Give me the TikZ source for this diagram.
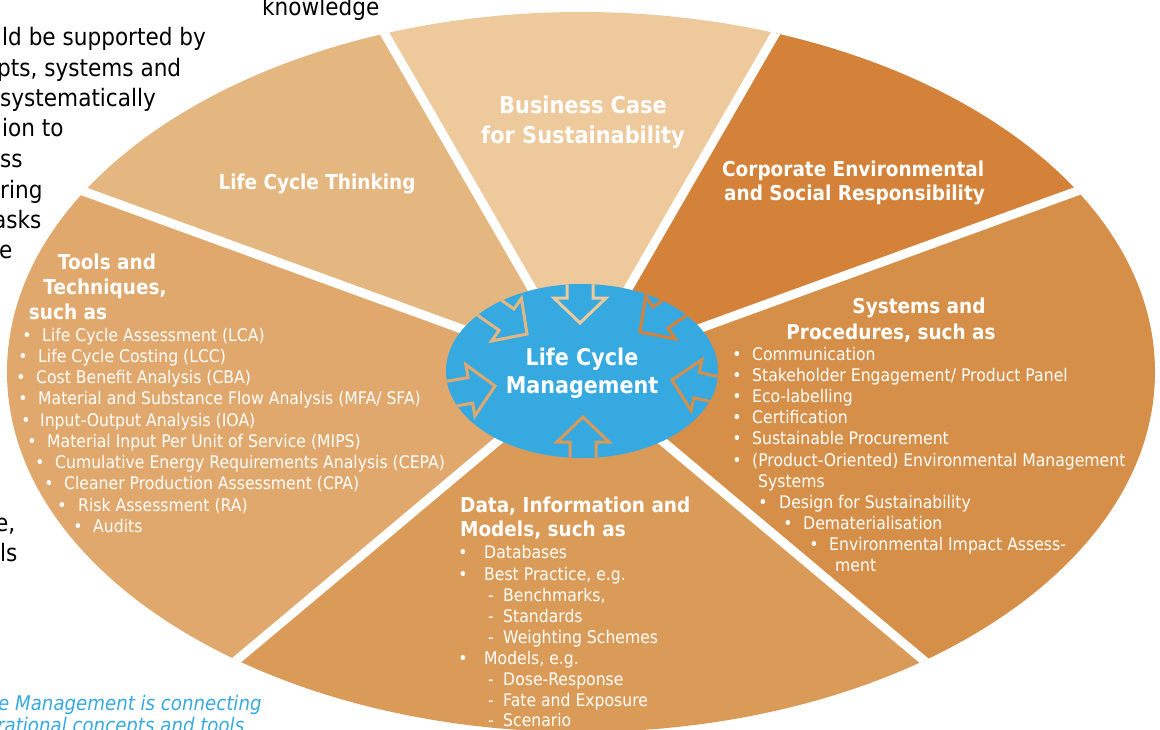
\documentclass[tikz,border=0pt]{standalone}
\usepackage{fontspec}
\setmainfont{DejaVu Sans}[FakeStretch=0.9]
\definecolor{lcblue}{HTML}{36A9E1}
\definecolor{cbiz}{HTML}{EDC99B}
\definecolor{clct}{HTML}{E5B780}
\definecolor{ccor}{HTML}{D4823A}
\definecolor{csys}{HTML}{D68F48}
\definecolor{cdat}{HTML}{DB9B58}
\definecolor{ctoo}{HTML}{E0A86C}
\tikzset{
  sepline/.style={white, line width=9pt},
  bt/.style={inner sep=0pt, anchor=west, text=white, font=\fontsize{17.4}{20}\selectfont, text height=12.6pt, text depth=0pt},
  hd/.style={inner sep=0pt, text=white, font=\bfseries\fontsize{20.5}{24}\selectfont, text height=15pt, text depth=0pt},
  bk/.style={inner sep=0pt, anchor=west, text=black, font=\fontsize{24}{28}\selectfont, text height=17.5pt, text depth=0pt},
  bl/.style={inner sep=0pt, anchor=west, text=lcblue, font=\itshape\fontsize{20.2}{26}\selectfont, text height=14.7pt, text depth=0pt},
  arr/.style={fill=lcblue, line width=3pt, line join=miter},
}
\newcommand\bitem[5]{%
  \node[bt] (#1) at (#3,#4) {#5};
  \coordinate (#1x) at (#2,0);
  \node[inner sep=0pt, anchor=base, text=white, font=\fontsize{17.4}{20}\selectfont] (#1b) at (#1x |- #1.base) {•};}
\newcommand\ditem[4]{%
  \node[bt] (#1) at (503,#3) {#4};
  \node[inner sep=0pt, anchor=base west, text=white, font=\fontsize{17.4}{20}\selectfont] (#1b) at (#2 |- #1.base) {-};}
\newcommand\lcarrow[3]{%
  \begin{scope}[shift={#1}, rotate=#2]
    \filldraw[arr, draw=#3] (0pt,0pt) -- (-25pt,26pt) -- (-25pt,13pt) -- (-70pt,13pt) -- (-70pt,-13pt) -- (-25pt,-13pt) -- (-25pt,-26pt) -- cycle;
  \end{scope}}
\begin{document}
\begin{tikzpicture}[x=1pt,y=-1pt]
\useasboundingbox (0,0) rectangle (1160,729);
\coordinate (C) at (580,372);
\begin{scope}
  \clip (581,372) ellipse [x radius=574pt, y radius=360pt];
  \fill[cbiz] (C) -- ++(60:1000pt) arc[start angle=60, end angle=120, radius=1000pt] -- cycle;
  \fill[clct] (C) -- ++(120:1000pt) arc[start angle=120, end angle=160, radius=1000pt] -- cycle;
  \fill[ctoo] (C) -- ++(160:1000pt) arc[start angle=160, end angle=220, radius=1000pt] -- cycle;
  \fill[cdat] (C) -- ++(220:1000pt) arc[start angle=220, end angle=320, radius=1000pt] -- cycle;
  \fill[csys] (C) -- ++(-40:1000pt) arc[start angle=-40, end angle=20, radius=1000pt] -- cycle;
  \fill[ccor] (C) -- ++(20:1000pt) arc[start angle=20, end angle=60, radius=1000pt] -- cycle;
  \foreach \a in {160,120,60,20,-40,220} \draw[sepline] (C) -- ++(\a:900pt);
\end{scope}
\fill[lcblue] (582,371) ellipse [x radius=136pt, y radius=87pt];
\begin{scope}
  \clip (582,371) ellipse [x radius=136pt, y radius=87pt];
  \lcarrow{(580,323)}{-90}{cbiz}
  \lcarrow{(583,417)}{90}{cdat}
  \lcarrow{(495,386)}{10}{ctoo}
  \lcarrow{(672,380)}{168}{csys}
  \lcarrow{(527,334)}{-35}{clct}
  \lcarrow{(640,332)}{-145}{ccor}
\end{scope}
% centre
\node[hd, font=\bfseries\fontsize{23}{28}\selectfont, text height=16.8pt] (lcm1) at (582,357) {Life Cycle};
\node[hd, font=\bfseries\fontsize{23}{28}\selectfont, text height=16.8pt] (lcm2) at (582,385) {Management};
% business case
\node[hd, font=\bfseries\fontsize{23.2}{28}\selectfont, text height=16.9pt] (bc1) at (583,105) {Business Case};
\node[hd, font=\bfseries\fontsize{23.2}{28}\selectfont, text height=16.9pt] (bc2) at (583,135) {for Sustainability};
% life cycle thinking
\node[hd] (lct) at (317,182) {Life Cycle Thinking};
% corporate
\node[hd, anchor=west] (cor1) at (722,169) {Corporate Environmental};
\node[hd, anchor=west] (cor2) at (724,193) {and Social Responsibility};
% tools
\node[hd] (to1) at (107,262) {Tools and};
\node[hd] (to2) at (105,287) {Techniques,};
\node[hd] (to3) at (68,312) {such as};
\bitem{ta}{27}{42}{335}{Life Cycle Assessment (LCA)}
\bitem{tb}{23}{38}{356}{Life Cycle Costing (LCC)}
\bitem{tc}{21}{36}{377}{Cost Benefit Analysis (CBA)}
\bitem{td}{23}{38}{398}{Material and Substance Flow Analysis (MFA/ SFA)}
\bitem{te}{26}{40}{420}{Input-Output Analysis (IOA)}
\bitem{tf}{32}{47}{441}{Material Input Per Unit of Service (MIPS)}
\bitem{tg}{40}{55}{462}{Cumulative Energy Requirements Analysis (CEPA)}
\bitem{th}{49}{64}{483}{Cleaner Production Assessment (CPA)}
\bitem{ti}{62}{78}{505}{Risk Assessment (RA)}
\bitem{tj}{78}{93}{526}{Audits}
% systems
\node[hd] (sy1) at (919,306) {Systems and};
\node[hd] (sy2) at (891,332) {Procedures, such as};
\bitem{sa}{737}{752}{354}{Communication}
\bitem{sb}{737}{752}{375}{Stakeholder Engagement/ Product Panel}
\bitem{sc}{737}{752}{396}{Eco-labelling}
\bitem{sd}{737}{752}{417}{Certification}
\bitem{se}{737}{752}{438}{Sustainable Procurement}
\bitem{sf}{737}{752}{460}{(Product-Oriented) Environmental Management}
\node[bt] (sf2) at (758,481) {Systems};
\bitem{sg}{763}{779}{502}{Design for Sustainability}
\bitem{sh}{788}{803}{523}{Dematerialisation}
\bitem{si}{814}{829}{544}{Environmental Impact Assess-}
\node[bt] (si2) at (835,565) {ment};
% data
\node[hd, anchor=west] (da1) at (460,505) {Data, Information and};
\node[hd, anchor=west] (da2) at (460,529) {Models, such as};
\bitem{da}{463}{484}{552}{Databases}
\bitem{db}{463}{484}{574}{Best Practice, e.g.}
\coordinate (dx) at (488,0);
\ditem{dc}{dx}{595}{Benchmarks,}
\ditem{dd}{dx}{616}{Standards}
\ditem{de}{dx}{637}{Weighting Schemes}
\bitem{df}{463}{484}{658}{Models, e.g.}
\ditem{dg}{dx}{679}{Dose-Response}
\ditem{dh}{dx}{700}{Fate and Exposure}
\ditem{di}{dx}{720}{Scenario}
% outside black text
\node[bk] (k0) at (262,7) {knowledge};
\node[bk] (k1) at (2,37) {ld be supported by};
\node[bk] (k2) at (-3,68) {pts, systems and};
\node[bk] (k3) at (0,98) {systematically};
\node[bk] (k4) at (2,128) {ion to};
\node[bk] (k5) at (0,159) {ss};
\node[bk] (k6) at (0,190) {ring};
\node[bk] (k7) at (-7,220) {asks};
\node[bk] (k8) at (-1,250) {e};
\node[bk] (k9) at (-5,523) {e,};
\node[bk] (k10) at (0,553) {ls};
% blue italic
\node[bl] (b1) at (-2,703) {e Management is connecting};
\node[bl] (b2) at (-3,725) {rational concepts and tools};
\end{tikzpicture}
\end{document}
